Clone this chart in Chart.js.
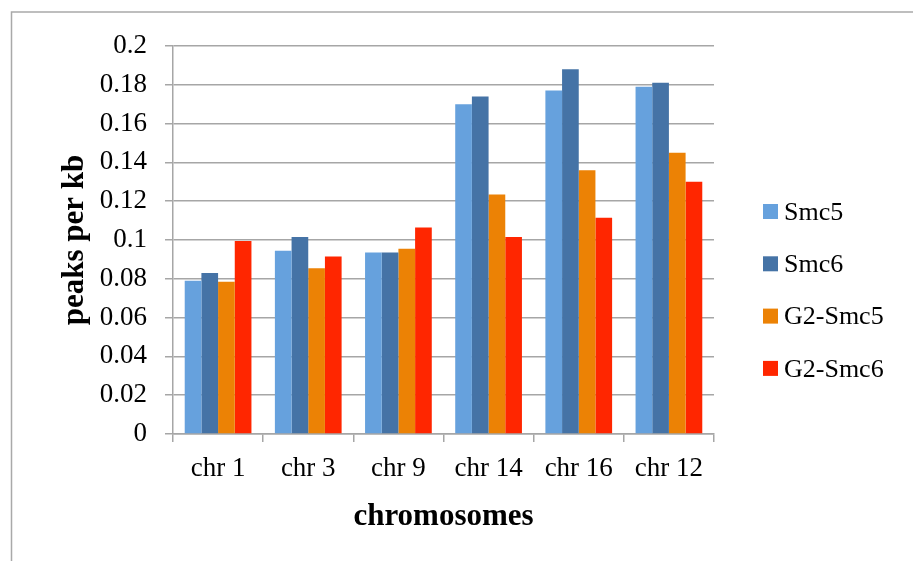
<!DOCTYPE html>
<html>
<head>
<meta charset="utf-8">
<script src="https://cdn.jsdelivr.net/npm/chart.js@4.4.0/dist/chart.umd.min.js"></script>
<style>
body { margin: 0; background: #fff; }
</style>
</head>
<body>
<canvas id="peaks" width="913" height="561"></canvas>
<script>
const chromosomes = ["chr 1", "chr 3", "chr 9", "chr 14", "chr 16", "chr 12"]
const smc5 = [0.079, 0.0945, 0.0935, 0.170, 0.177, 0.179]
const smc6 = [0.083, 0.1015, 0.0935, 0.174, 0.188, 0.181]
const g2Smc5 = [0.0785, 0.0855, 0.0955, 0.1235, 0.136, 0.145]
const g2Smc6 = [0.0995, 0.0915, 0.1065, 0.1015, 0.1115, 0.130]
const yTickLabels = ["0", "0.02", "0.04", "0.06", "0.08", "0.1", "0.12", "0.14", "0.16", "0.18", "0.2"]

const gridGray = "#a6a6a6"
const serif = "'Liberation Serif', 'Times New Roman', serif"

// grey frame on the left and top, like the pasted office chart
const frame = {
	id: "frame",
	beforeDraw(chart) {
		const ctx = chart.ctx
		ctx.save()
		ctx.strokeStyle = "#a9a9a9"
		ctx.lineWidth = 1.5
		ctx.beginPath()
		ctx.moveTo(11.5, 561)
		ctx.lineTo(11.5, 12)
		ctx.lineTo(913, 12)
		ctx.stroke()
		ctx.restore()
	}
}

// legend drawn at the right, spaced like the reference
const sideLegend = {
	id: "sideLegend",
	afterDraw(chart) {
		const ctx = chart.ctx
		const x = chart.chartArea.right + 49
		ctx.save()
		ctx.font = "26px " + serif
		ctx.textBaseline = "middle"
		chart.data.datasets.forEach((ds, i) => {
			const y = 212 + i * 52.3
			ctx.fillStyle = ds.backgroundColor
			ctx.fillRect(x, y - 8, 15, 15)
			ctx.fillStyle = "#000"
			ctx.fillText(ds.label, x + 21, y + 1)
		})
		ctx.restore()
	}
}

const ctxPeaks = document.getElementById("peaks")

new Chart(ctxPeaks, {
	type: "bar",
	data: {
		labels: chromosomes,
		datasets: [
			{ label: "Smc5", data: smc5, backgroundColor: "rgb(102, 161, 221)" },
			{ label: "Smc6", data: smc6, backgroundColor: "rgb(69, 115, 166)" },
			{ label: "G2-Smc5", data: g2Smc5, backgroundColor: "rgb(236, 130, 5)" },
			{ label: "G2-Smc6", data: g2Smc6, backgroundColor: "rgb(255, 38, 0)" }
		]
	},
	options: {
		responsive: false,
		animation: false,
		layout: { padding: { top: 46, right: 199, bottom: 0, left: 0 } },
		datasets: {
			bar: { categoryPercentage: 0.74, barPercentage: 1.0 }
		},
		plugins: {
			legend: { display: false },
			tooltip: { enabled: false }
		},
		scales: {
			x: {
				offset: true,
				grid: { display: true, drawOnChartArea: false, drawTicks: true, tickLength: 8, color: gridGray, lineWidth: 1.5 },
				border: { display: true, color: gridGray, width: 1.5 },
				ticks: { color: "#000", padding: 11, font: { family: serif, size: 27 } },
				title: {
					display: true,
					text: "chromosomes",
					color: "#000",
					font: { family: serif, size: 31, weight: "bold" },
					padding: { top: 0, bottom: 25 }
				},
				afterFit(scale) {
					scale.height = 127
					scale.paddingLeft = 0
					scale.paddingRight = 0
				}
			},
			y: {
				min: 0,
				max: 0.2,
				ticks: {
					stepSize: 0.02,
					color: "#000",
					padding: 18,
					font: { family: serif, size: 27 },
					callback: (value, index) => yTickLabels[index]
				},
				grid: { drawOnChartArea: true, drawTicks: true, tickLength: 8, color: gridGray, lineWidth: 1.5 },
				border: { display: true, color: gridGray, width: 1.5 },
				title: {
					display: true,
					text: "peaks per kb",
					color: "#000",
					font: { family: serif, size: 31, weight: "bold" },
					padding: { top: 56, bottom: 0 }
				},
				afterFit(scale) {
					scale.width = 173
					scale.paddingTop = 0
					scale.paddingBottom = 0
				}
			}
		}
	},
	plugins: [frame, sideLegend]
})
</script>
</body>
</html>
